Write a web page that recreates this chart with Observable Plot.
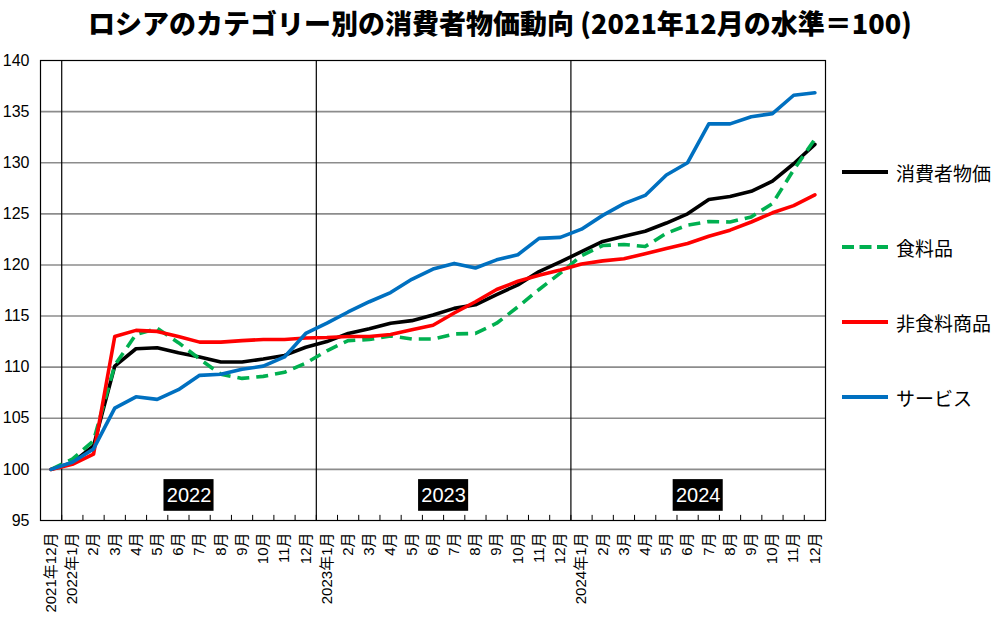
<!DOCTYPE html>
<html><head><meta charset="utf-8">
<script src="https://cdn.jsdelivr.net/npm/d3@7"></script>
<script src="https://cdn.jsdelivr.net/npm/@observablehq/plot@0.6"></script>
<style>
body{margin:0;background:#fff;width:1000px;height:625px;position:relative;overflow:hidden;font-family:"Liberation Sans","Noto Sans CJK JP",sans-serif}
#title{height:45px;line-height:45px;text-align:center;font-family:"Noto Sans CJK JP",sans-serif;font-weight:900;font-size:27px;color:#000;white-space:nowrap}
#legend{position:absolute;left:840px;top:0;}
.li{position:absolute;left:0;width:170px;height:30px;display:flex;align-items:center;font-family:"Noto Sans CJK JP",sans-serif;font-size:19px;color:#000}
.li svg{margin-right:6px}
</style></head>
<body>
<div id="title">ロシアのカテゴリー別の消費者物価動向 (2021年12月の水準＝100)</div>
<div id="chart"></div>
<div id="legend"></div>
<script>
const labels = ["2021年12月","2022年1月","2月","3月","4月","5月","6月","7月","8月","9月","10月","11月","12月",
  "2023年1月","2月","3月","4月","5月","6月","7月","8月","9月","10月","11月","12月",
  "2024年1月","2月","3月","4月","5月","6月","7月","8月","9月","10月","11月","12月"];
const cpi = [100,100.65,102.3,110.1,111.8,111.9,111.4,111.0,110.5,110.5,110.8,111.15,111.95,
  112.5,113.3,113.75,114.3,114.55,115.1,115.75,116.1,117.1,118.05,119.35,120.3,
  121.3,122.3,122.8,123.3,124.1,125.0,126.4,126.7,127.2,128.2,129.9,131.8];
const food = [100,101.0,102.8,110.2,113.2,113.8,112.4,110.8,109.3,108.9,109.1,109.5,110.4,
  111.6,112.6,112.7,113.05,112.75,112.75,113.25,113.3,114.3,115.9,117.6,119.2,
  120.9,121.9,122.0,121.8,123.1,123.9,124.25,124.2,124.7,126.0,129.3,132.3];
const nonfood = [100,100.5,101.5,113.0,113.6,113.5,113.0,112.45,112.45,112.6,112.7,112.7,112.85,
  112.9,113.0,113.0,113.2,113.65,114.1,115.3,116.4,117.6,118.4,119.0,119.5,
  120.1,120.4,120.6,121.1,121.6,122.1,122.8,123.4,124.2,125.1,125.8,126.85];
const services = [100,100.7,102.0,106.0,107.1,106.85,107.8,109.2,109.3,109.8,110.1,111.0,113.3,
  114.3,115.4,116.4,117.3,118.6,119.6,120.15,119.7,120.5,121.0,122.6,122.7,
  123.5,124.85,126.0,126.8,128.8,130.0,133.8,133.8,134.5,134.8,136.6,136.85];
const seriesNames = ["消費者物価","食料品","非食料商品","サービス"];
const seriesColors = ["#000000","#00B050","#FF0000","#0070C0"];
const seriesDash = [null,"12,7",null,null];
const yTicks = [95,100,105,110,115,120,125,130,135,140];
const years = ["2022","2023","2024"];

const seriesValues = [cpi, food, nonfood, services];
const idx = labels.map((_, i) => i);
const yearStarts = idx.filter(i => i > 0 && labels[i].includes("年"));
const separators = yearStarts.map(i => i - 0.5);
const boundaries = idx.slice(1).map(i => i - 0.5);
const yearCenters = years.map((y, k) => {
  const s = yearStarts[k], e = k + 1 < yearStarts.length ? yearStarts[k + 1] - 1 : labels.length - 1;
  return {year: y, x: (s + e) / 2};
});
const [yMin, yMax] = [yTicks[0], yTicks[yTicks.length - 1]];
const boxY = yMin + 2.45;

const marks = [
  Plot.ruleY(yTicks.filter(v => v > yMin && v < yMax), {stroke: "#8c8c8c", strokeWidth: 1.6}),
  Plot.ruleX(separators, {y1: yMin, y2: yMax, stroke: "#000", strokeWidth: 1.2}),
  Plot.ruleX(boundaries, {y1: yMin, y2: yMin + 0.5, stroke: "#000", strokeWidth: 1}),
  Plot.frame({stroke: "#000", strokeWidth: 1.2}),
  Plot.rect(yearCenters, {x1: d => d.x - 1.18, x2: d => d.x + 1.18, y1: boxY - 1.55, y2: boxY + 1.55, fill: "#000"}),
  Plot.text(yearCenters, {x: "x", y: boxY, text: "year", fill: "#fff", fontSize: 20, fontFamily: "Liberation Sans, Arial, sans-serif"}),
  Plot.axisY({ticks: yTicks, tickSize: 0, tickPadding: 11, fontSize: 16, label: null, fill: "#000", fontFamily: "Liberation Sans, Arial, sans-serif"}),
  Plot.axisX({ticks: idx, tickFormat: i => labels[i], tickSize: 0, tickPadding: 12, tickRotate: -90, fontSize: 15, label: null, fill: "#000"})
];
seriesValues.forEach((vals, s) => {
  marks.push(Plot.line(vals, {x: (d, i) => i, y: d => d, stroke: seriesColors[s], strokeWidth: 3.6,
    strokeDasharray: seriesDash[s], strokeLinejoin: "round", strokeLinecap: seriesDash[s] ? "butt" : "round"}));
});

const chart = Plot.plot({
  width: 1000, height: 580,
  marginTop: 15, marginBottom: 105, marginLeft: 40, marginRight: 175,
  x: {type: "linear", domain: [-0.5, labels.length - 0.5]},
  y: {domain: [yMin, yMax]},
  style: {fontFamily: "Liberation Sans, Noto Sans CJK JP, sans-serif", color: "#000", background: "#fff"},
  marks
});
document.getElementById("chart").appendChild(chart);

const legend = document.getElementById("legend");
const legendTops = [157, 232, 307, 382];
seriesNames.forEach((name, s) => {
  const d = document.createElement("div");
  d.className = "li";
  d.style.top = legendTops[s] + "px";
  d.innerHTML = `<svg width="50" height="10"><line x1="2" x2="48" y1="5" y2="5" stroke="${seriesColors[s]}" stroke-width="4" ${seriesDash[s] ? `stroke-dasharray="12,5.5"` : ""}/></svg><span>${name}</span>`;
  legend.appendChild(d);
});
</script>
</body></html>
